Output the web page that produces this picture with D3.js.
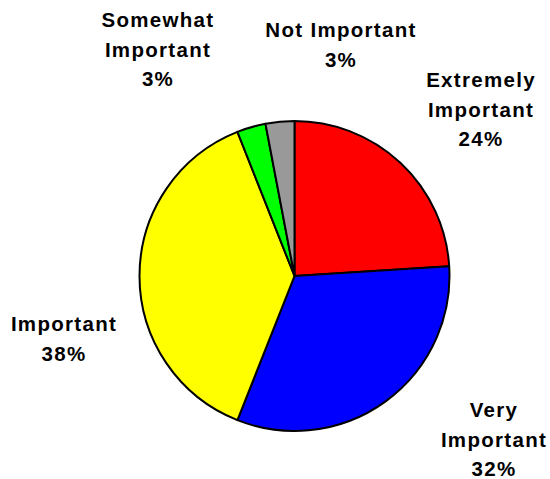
<!DOCTYPE html>
<html>
<head>
<meta charset="utf-8">
<script src="https://cdn.jsdelivr.net/npm/d3@7/dist/d3.min.js"></script>
<style>
  html, body { margin: 0; padding: 0; background: #fff; }
  svg { display: block; }
  text { font-family: "Liberation Sans", Arial, sans-serif; font-weight: bold; fill: #000; }
</style>
</head>
<body>
<svg id="chart" width="550" height="479"></svg>
<script>
const categories = ["Extremely Important", "Very Important", "Important", "Somewhat Important", "Not Important"];
const values = [24, 32, 38, 3, 3];
const colors = ["#ff0000", "#0000ff", "#ffff00", "#00ff00", "#999999"];
const labelLines = [
  ["Extremely", "Important", "24%"],
  ["Very", "Important", "32%"],
  ["Important", "38%"],
  ["Somewhat", "Important", "3%"],
  ["Not Important", "3%"]
];
// label anchor (centre x, first baseline y)
const labelPos = [[481, 87], [494, 417], [64, 331], [158, 27], [341, 37]];

const svg = d3.select("#chart");
const cx = 294.5, cy = 276, r = 155;

const data = categories.map((c, i) => ({ name: c, value: values[i], color: colors[i], lines: labelLines[i], pos: labelPos[i] }));

const pie = d3.pie().sort(null).value(d => d.value);
const arc = d3.arc().innerRadius(0).outerRadius(r);

const g = svg.append("g").attr("transform", `translate(${cx},${cy})`);
g.selectAll("path").data(pie(data)).join("path")
  .attr("d", arc)
  .attr("fill", d => d.data.color)
  .attr("stroke", "#000")
  .attr("stroke-width", 2)
  .attr("stroke-linejoin", "round");

const lineH = 29.5;
data.forEach(d => {
  const t = svg.append("text")
    .attr("text-anchor", "middle")
    .attr("font-size", 20.5)
    .attr("letter-spacing", 1.3);
  d.lines.forEach((ln, j) => {
    t.append("tspan").attr("x", d.pos[0]).attr("y", d.pos[1] + j * lineH).text(ln);
  });
});
</script>
</body>
</html>
